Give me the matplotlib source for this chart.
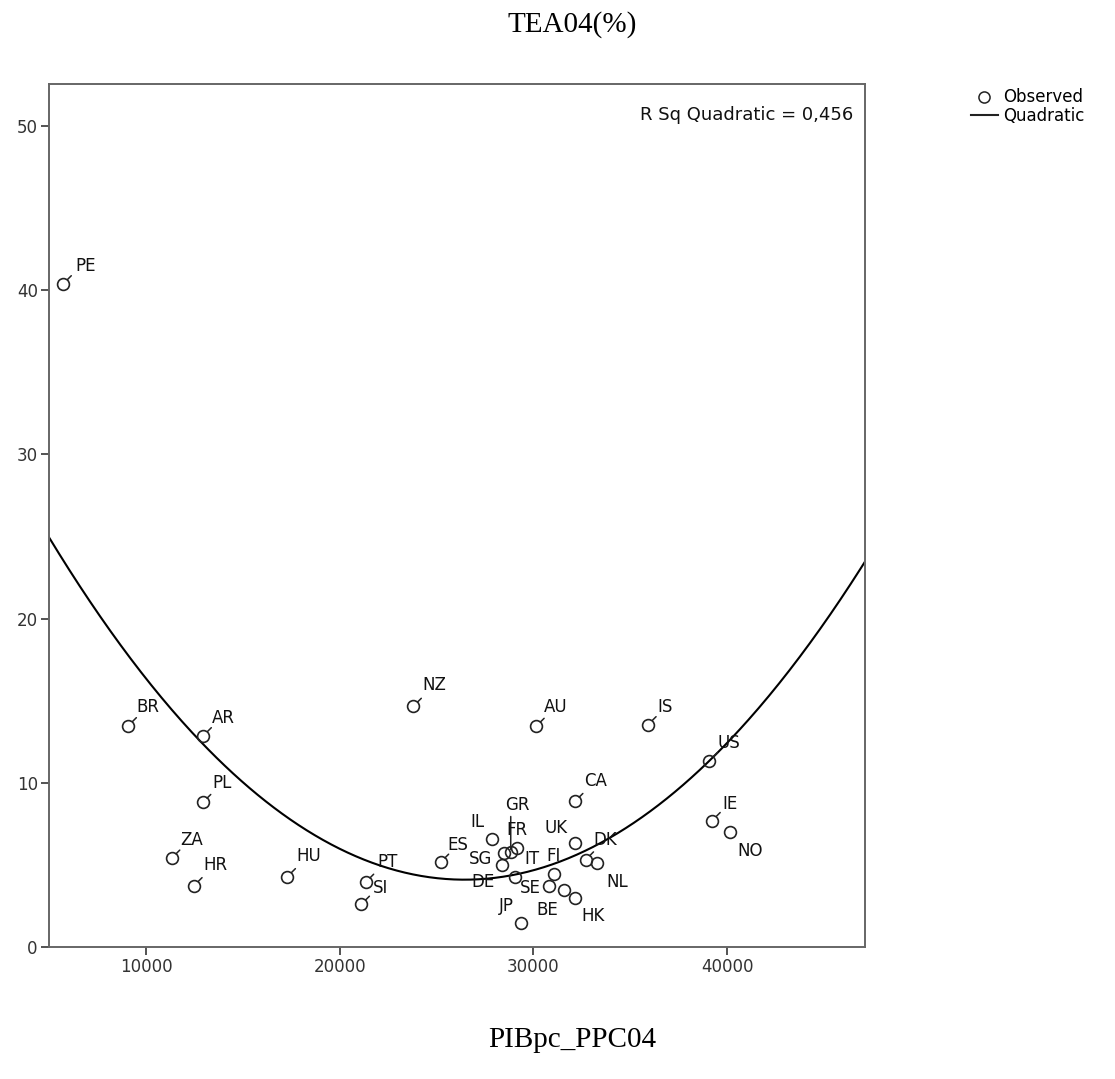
import numpy as np
import matplotlib
matplotlib.use("Agg")
from matplotlib import pyplot as plt
from matplotlib.lines import Line2D

# GEM 2004: GDP per capita (PPP) vs. TEA rate
paises = ["PE", "BR", "AR", "PL", "ZA", "HR", "HU", "PT", "SI", "NZ",
          "ES", "IL", "GR", "FR", "IT", "SG", "DE", "JP", "AU", "CA",
          "UK", "FI", "SE", "BE", "HK", "DK", "NL", "IS", "US", "IE", "NO"]
pib = [5730, 9090, 12960, 12930, 11330, 12480, 17300, 21340, 21120, 23800,
       25210, 27850, 28830, 29170, 28480, 28360, 29040, 29380, 30140, 32140,
       32170, 31050, 30790, 31600, 32170, 32690, 33300, 35920, 39090, 39230, 40160]
tea = [40.4, 13.47, 12.86, 8.79, 5.40, 3.72, 4.27, 3.93, 2.59, 14.65,
       5.15, 6.57, 5.80, 6.04, 5.70, 4.99, 4.27, 1.43, 13.43, 8.85,
       6.31, 4.42, 3.71, 3.46, 2.95, 5.29, 5.13, 13.53, 11.34, 7.69, 6.96]

# where each label sits relative to its point (pixels, y up)
offs = {"PE": (22, 18), "BR": (20, 19), "AR": (20, 18), "PL": (19, 19),
        "ZA": (20, 18), "HR": (21, 21), "HU": (21, 21), "PT": (22, 20),
        "SI": (19, 16), "NZ": (21, 21), "ES": (17, 17), "IL": (-14, 17),
        "GR": (7, 47), "FR": (0, 18), "IT": (28, -6), "SG": (-21, 6),
        "DE": (-32, -5), "JP": (-15, 17), "AU": (20, 19), "CA": (21, 20),
        "UK": (-19, 15), "FI": (0, 18), "SE": (-18, -2), "BE": (-17, -20),
        "HK": (18, -18), "DK": (20, 20), "NL": (20, -19), "IS": (17, 18),
        "US": (19, 18), "IE": (18, 17), "NO": (20, -19)}

x = np.array(pib, dtype=float)
y = np.array(tea, dtype=float)
coef = np.polyfit(x, y, 2)

fig = plt.figure(figsize=(11.15, 10.79), dpi=100)
ax = fig.add_axes([0.0439, 0.1226, 0.7319, 0.8000])

xs = np.linspace(4990, 47120, 400)
ax.plot(xs, np.polyval(coef, xs), color="black", lw=1.5, zorder=2)
ax.plot(x, y, "o", mfc="none", mec="#222222", ms=8.5, mew=1.2, zorder=3)

for p, xi, yi in zip(paises, x, y):
    dx, dy = offs[p]
    ax.annotate(p, (xi, yi), xytext=(dx, dy), textcoords="offset pixels",
                ha="center", va="center", fontsize=12, color="#111111")
    if dx > 10 and dy > 10:
        # short tail from the circle towards the label
        ax.annotate("", (xi, yi), xytext=(8, 8), textcoords="offset pixels",
                    arrowprops=dict(arrowstyle="-", color="#222222", lw=1.1,
                                    shrinkA=0, shrinkB=4.3))
    if p == "GR":
        ax.annotate("", (xi, yi), xytext=(0, 35), textcoords="offset pixels",
                    arrowprops=dict(arrowstyle="-", color="#222222", lw=1.1,
                                    shrinkA=0, shrinkB=1.5))

ax.set_xlim(4990, 47120)
ax.set_ylim(0, 52.6)
ax.set_xticks([10000, 20000, 30000, 40000])
ax.set_yticks([0, 10, 20, 30, 40, 50])
ax.tick_params(direction="out", length=6, width=1.3, color="#444444",
               labelsize=12, labelcolor="#333333", pad=2)
for s in ax.spines.values():
    s.set_color("#666666")
    s.set_linewidth(1.4)

ax.text(0.985, 0.963, "R Sq Quadratic = 0,456", transform=ax.transAxes,
        ha="right", va="center", fontsize=13, color="#111111")

handles = [Line2D([], [], ls="none", marker="o", mfc="none", mec="#222222", ms=8, mew=1.1),
           Line2D([], [], color="#222222", lw=1.5)]
fig.legend(handles, ["Observed", "Quadratic"], loc="upper left",
           bbox_to_anchor=(0.871, 0.918), frameon=False, fontsize=12,
           handlelength=1.6, handletextpad=0.3, labelspacing=0.05,
           borderpad=0, borderaxespad=0)

fig.text(0.513, 0.977, "TEA04(%)", ha="center", va="center",
         fontsize=21, family="Liberation Serif")
fig.text(0.513, 0.036, "PIBpc_PPC04", ha="center", va="center",
         fontsize=21, family="Liberation Serif")

fig.savefig("out.png", dpi=100)
